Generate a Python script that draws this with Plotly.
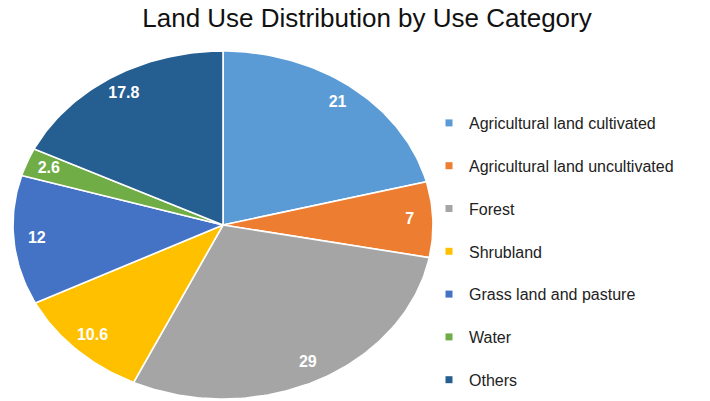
import numpy as np
import plotly.graph_objects as go

# Land use shares (percent) by category
categories = [
    "Agricultural land cultivated",
    "Agricultural land uncultivated",
    "Forest",
    "Shrubland",
    "Grass land and pasture",
    "Water",
    "Others",
]
values = [21, 7, 29, 10.6, 12, 2.6, 17.8]
colors = ["#5B9BD5", "#ED7D31", "#A5A5A5", "#FFC000", "#4472C4", "#70AD47", "#255E91"]

W, H = 710, 401
FONT = "Liberation Sans, Arial, sans-serif"

fig = go.Figure()

total = float(sum(values))
start = 0.0  # clockwise from 12 o'clock, in fractions of a full turn
label_x, label_y = [], []
for name, v, c in zip(categories, values, colors):
    frac = v / total
    n = max(int(frac * 360), 4)
    t = np.linspace(start, start + frac, n) * 2 * np.pi
    xs = np.concatenate([[0.0], np.sin(t), [0.0]])
    ys = np.concatenate([[0.0], np.cos(t), [0.0]])
    fig.add_trace(go.Scatter(
        x=xs, y=ys, mode="lines", fill="toself",
        fillcolor=c, line=dict(color="white", width=1.6),
        hoverinfo="text", text=f"{name}: {v}", showlegend=False,
    ))
    mid = (start + frac / 2) * 2 * np.pi
    label_x.append(0.89 * np.sin(mid))
    label_y.append(0.89 * np.cos(mid))
    # legend entry with a small square swatch
    fig.add_trace(go.Scatter(
        x=[None], y=[None], mode="markers", name=name, legendgroup=name,
        marker=dict(symbol="square", size=7, color=c),
    ))
    start += frac

# value labels inside each slice
fig.add_trace(go.Scatter(
    x=label_x, y=label_y, mode="text",
    text=[f"{v:g}" for v in values],
    textposition="middle center",
    textfont=dict(family=FONT, size=16, color="white", weight="bold"),
    hoverinfo="skip", showlegend=False,
))

fig.update_layout(
    width=W, height=H,
    margin=dict(l=0, r=0, t=0, b=0, autoexpand=False),
    paper_bgcolor="white", plot_bgcolor="white",
    title=dict(
        text="Land Use Distribution by Use Category",
        x=367 / W, xanchor="center", y=1 - 18 / H, yanchor="middle",
        font=dict(family=FONT, size=26, color="#111111"),
    ),
    xaxis=dict(range=[-1, 1], domain=[13 / W, 433 / W], visible=False, fixedrange=True),
    yaxis=dict(range=[-1, 1], domain=[1 - 399 / H, 1 - 51 / H], visible=False, fixedrange=True),
    legend=dict(
        x=429 / W, xanchor="left", y=1 - 106 / H, yanchor="top",
        font=dict(family=FONT, size=16, color="#222222"),
        tracegroupgap=19, bgcolor="rgba(0,0,0,0)",
    ),
    showlegend=True,
)

fig.write_html("out.html")
